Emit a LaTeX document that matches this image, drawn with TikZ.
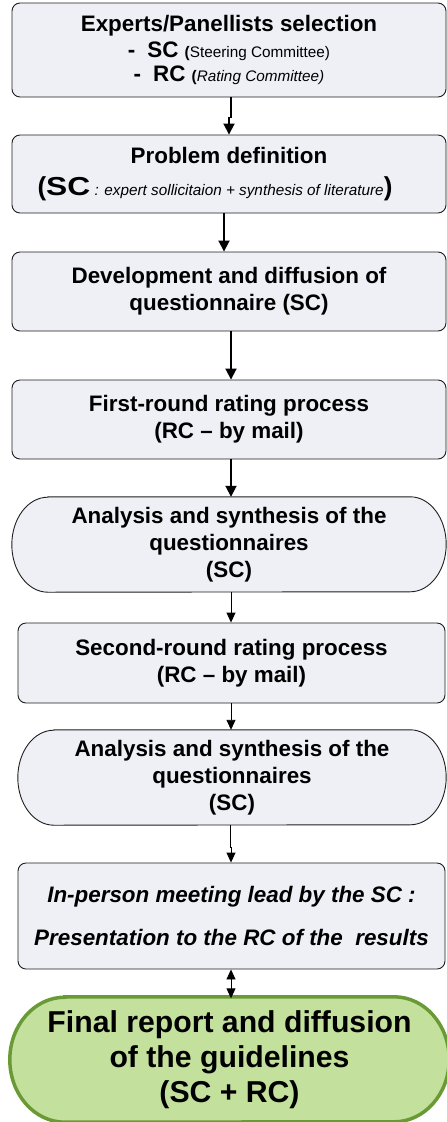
\documentclass[tikz,border=0pt]{standalone}
\usepackage{fontspec}
\setmainfont{Liberation Sans}
\usetikzlibrary{arrows.meta}
\definecolor{boxfill}{HTML}{EEF0F6}
\definecolor{boxline}{HTML}{1E1E1E}
\definecolor{finalfill}{HTML}{C3E09D}
\definecolor{finalline}{HTML}{6A9A35}
\newcommand\mainfnt{\fontsize{22.4}{27}\selectfont\bfseries}
\newcommand\smallfnt{\fontsize{15.3}{17}\selectfont}
\newcommand\finalfnt{\fontsize{30.2}{35}\selectfont\bfseries}
\newcommand\bigtxt[1]{{\fontsize{26}{27}\selectfont #1}}
\begin{document}
\begin{tikzpicture}[x=1pt,y=1pt,
  stepbox/.style={draw=boxline, line width=0.9pt, fill=boxfill, rounded corners=8pt,
    inner sep=0pt, align=center, font=\mainfnt},
  ovaltext/.style={inner sep=0pt, align=center, font=\mainfnt},
  ovalline/.style={draw=boxline, line width=0.9pt, fill=boxfill},
  thickarrow/.style={line width=1.8pt, -{Triangle[width=11pt,length=11pt]}},
  thinarrow/.style={line width=0.9pt, -{Triangle[width=9pt,length=10pt]}},
  dblarrow/.style={line width=0.9pt, {Triangle[width=9pt,length=10pt]}-{Triangle[width=9pt,length=10pt]}}
]
\useasboundingbox (0,0) rectangle (447,-1122);
\clip (0,0) rectangle (447,-1122);

% Box 1
\node[stepbox, minimum width=434pt, minimum height=94pt] (b1) at (229,-50)
 {Experts/Panellists selection\\[-1pt]
  -\hspace{12pt}SC {\smallfnt(\mdseries Steering Committee)}\\[-3pt]
  -\hspace{12pt}RC {\smallfnt(\mdseries\itshape Rating Committee)}};

% Box 2
\node[stepbox, minimum width=434pt, minimum height=78pt] (b2) at (229,-174)
 {Problem definition\\[5pt]
  \bigtxt{(\scalebox{1.22}[1]{SC}}{\smallfnt\mdseries\itshape\ : expert sollicitaion + synthesis of literature}\bigtxt{)}\hspace*{28pt}};

% Box 3
\node[stepbox, minimum width=434pt, minimum height=79pt] (b3) at (229,-291.5)
 {Development and diffusion of\\ questionnaire (SC)};

% Box 4
\node[stepbox, minimum width=434pt, minimum height=79pt] (b4) at (229,-419.5)
 {First-round rating process\\ (RC -- by mail)};

% Box 5 (oval)
\node[ovaltext, minimum width=434pt, minimum height=95pt] (b5) at (229,-544.5) {};
\draw[ovalline] ([xshift=36pt]b5.north west) -- ([xshift=-36pt]b5.north east)
  arc[start angle=90, end angle=-90, x radius=36pt, y radius=47.5pt]
  -- ([xshift=36pt]b5.south west)
  arc[start angle=270, end angle=90, x radius=36pt, y radius=47.5pt] -- cycle;
\node[ovaltext] at (b5.center)
 {Analysis and synthesis of the\\ questionnaires\\ (SC)};

% Box 6
\node[stepbox, minimum width=427pt, minimum height=80pt] (b6) at (231.5,-663)
 {Second-round rating process\\ (RC -- by mail)};

% Box 7 (oval)
\node[ovaltext, minimum width=428pt, minimum height=95pt] (b7) at (232,-777.5) {};
\draw[ovalline] ([xshift=36pt]b7.north west) -- ([xshift=-36pt]b7.north east)
  arc[start angle=90, end angle=-90, x radius=36pt, y radius=47.5pt]
  -- ([xshift=36pt]b7.south west)
  arc[start angle=270, end angle=90, x radius=36pt, y radius=47.5pt] -- cycle;
\node[ovaltext] at (b7.center)
 {Analysis and synthesis of the\\ questionnaires\\ (SC)};

% Box 8
\node[stepbox, minimum width=427pt, minimum height=106pt, font=\mainfnt\itshape] (b8) at (231.5,-916)
 {In-person meeting lead by the SC :\\[16pt]
  Presentation to the RC of the\ \ results};

% Box 9 (final)
\node[ovaltext, minimum width=439pt, minimum height=125pt] (b9) at (229.5,-1059.5) {};
\draw[draw=finalline, line width=3.5pt, fill=finalfill]
  ([xshift=55pt]b9.north west) -- ([xshift=-55pt]b9.north east)
  arc[start angle=90, end angle=-90, x radius=55pt, y radius=62.5pt]
  -- ([xshift=55pt]b9.south west)
  arc[start angle=270, end angle=90, x radius=55pt, y radius=62.5pt] -- cycle;
\node[ovaltext, font=\finalfnt] at ([yshift=-0.5pt]b9.center)
 {Final report and diffusion\\ of the guidelines\\ (SC + RC)};

% Connectors
\draw[thickarrow] ([xshift=2pt]b1.south) -- ++(0,-20pt) -| (b2.north);
\draw[thickarrow] ([xshift=-5pt]b2.south) -- ([xshift=-5pt]b3.north);
\draw[thickarrow] ([xshift=2pt]b3.south) -- ([xshift=2pt]b4.north);
\draw[thickarrow] ([xshift=2pt]b4.south) -- ([xshift=2pt]b5.north);
\draw[thinarrow] ([xshift=2pt]b5.south) -- ([xshift=-0.5pt]b6.north);
\draw[thinarrow] ([xshift=-0.5pt]b6.south) -- ([xshift=-1pt]b7.north);
\draw[thinarrow] ([xshift=-1.5pt]b7.south) -- ++(0,-22pt) -| ([xshift=-0.5pt]b8.north);
\draw[dblarrow] ([xshift=-0.5pt]b8.south) -- ([xshift=1.5pt,yshift=-1.5pt]b9.north);
\end{tikzpicture}
\end{document}
